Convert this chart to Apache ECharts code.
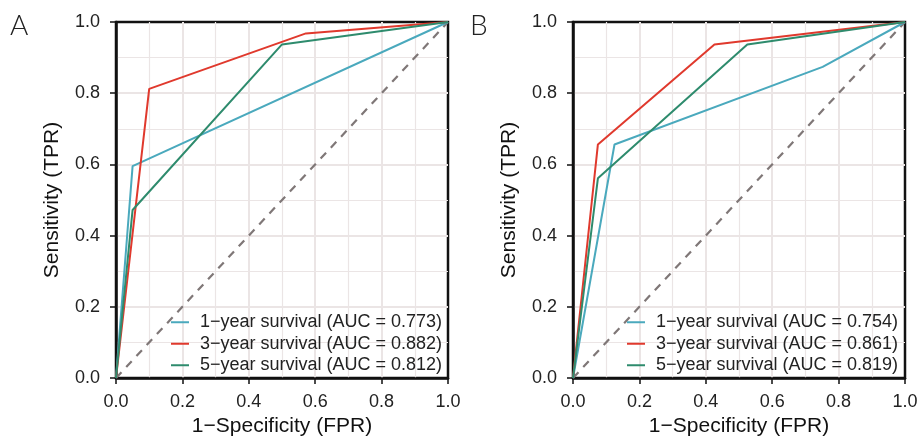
<!DOCTYPE html>
<html>
<head>
<meta charset="utf-8">
<script src="https://cdn.jsdelivr.net/npm/echarts@6/dist/echarts.min.js"></script>
<style>
  html, body { margin: 0; padding: 0; background: #fff; }
  #main { width: 919px; height: 438px; }
</style>
</head>
<body>
<div id="main"></div>
<script>
// ---------------------------------
// Data (FPR, TPR)
// ---------------------------------
const namesA = [
  '1\u2212year survival (AUC = 0.773)',
  '3\u2212year survival (AUC = 0.882)',
  '5\u2212year survival (AUC = 0.812)'
];
const namesB = [
  '1\u2212year survival (AUC = 0.754)',
  '3\u2212year survival (AUC = 0.861)',
  '5\u2212year survival (AUC = 0.819)'
];

// Panel A
const rocA1 = [[0, 0], [0.05, 0.595], [1, 1]];
const rocA3 = [[0, 0], [0.1, 0.812], [0.572, 0.968], [1, 1]];
const rocA5 = [[0, 0], [0.05, 0.472], [0.5, 0.937], [1, 1]];

// Panel B
const rocB1 = [[0, 0], [0.125, 0.656], [0.752, 0.874], [1, 1]];
const rocB3 = [[0, 0], [0.075, 0.656], [0.426, 0.937], [1, 1]];
const rocB5 = [[0, 0], [0.075, 0.561], [0.525, 0.937], [1, 1]];

const diagonal = [[0, 0], [1, 1]];

// Constants
const COLORS = ['#4aa9bd', '#e0392d', '#2e8b6d'];
const GRID_COLOR = '#ebe5e5';
const FONT = 'Liberation Sans, Arial, sans-serif';

const grids = [
  { left: 116, width: 332, top: 22, height: 356 },
  { left: 573, width: 332, top: 22, height: 356 }
];

const xAxes = [];
const yAxes = [];
const series = [];

for (let i = 0; i < 2; i++) {
  const common = {
    type: 'value',
    min: 0,
    max: 1,
    interval: 0.2,
    gridIndex: i,
    nameLocation: 'middle',
    nameTextStyle: { fontSize: 21, color: '#111', fontFamily: FONT },
    axisLine: { show: true, lineStyle: { color: '#111', width: 2.5 } },
    axisTick: { show: true, inside: false, length: 6, lineStyle: { color: '#111', width: 1.5 } },
    axisLabel: {
      fontSize: 18, color: '#222', fontFamily: FONT,
      formatter: v => v.toFixed(1)
    },
    splitLine: {
      show: true, showMinLine: false, showMaxLine: false,
      lineStyle: { color: GRID_COLOR, width: 2 }
    },
    minorTick: { show: true, splitNumber: 2, length: 0 },
    minorSplitLine: { show: true, lineStyle: { color: GRID_COLOR, width: 1.2 } }
  };
  xAxes.push(Object.assign({}, common, {
    name: '1\u2212Specificity (FPR)',
    nameGap: 38,
    axisLabel: Object.assign({}, common.axisLabel, { margin: 15 })
  }));
  yAxes.push(Object.assign({}, common, {
    name: 'Sensitivity (TPR)',
    nameGap: 53,
    axisLabel: Object.assign({}, common.axisLabel, { margin: 16 })
  }));
}

function addCurve(name, data, color, idx) {
  series.push({
    name: name,
    type: 'line',
    data: data,
    xAxisIndex: idx,
    yAxisIndex: idx,
    color: color,
    symbol: 'none',
    showSymbol: false,
    silent: true,
    z: 3,
    lineStyle: { color: color, width: 2 }
  });
}

function addDiagonal(idx) {
  series.push({
    type: 'line',
    data: diagonal,
    xAxisIndex: idx,
    yAxisIndex: idx,
    symbol: 'none',
    silent: true,
    z: 2,
    lineStyle: { color: '#7f7777', width: 2.2, type: [8, 7] }
  });
}

addDiagonal(0);
addCurve(namesA[0], rocA1, COLORS[0], 0);
addCurve(namesA[1], rocA3, COLORS[1], 0);
addCurve(namesA[2], rocA5, COLORS[2], 0);

addDiagonal(1);
addCurve(namesB[0], rocB1, COLORS[0], 1);
addCurve(namesB[1], rocB3, COLORS[1], 1);
addCurve(namesB[2], rocB5, COLORS[2], 1);

const legendStyle = {
  orient: 'vertical',
  itemWidth: 18,
  itemHeight: 10,
  itemGap: 3,
  padding: 0,
  icon: 'path://M0,4L18,4L18,6L0,6Z',
  textStyle: {
    fontSize: 18, lineHeight: 18.5, color: '#222', fontFamily: FONT,
    padding: [0, 0, 0, 6]
  },
  selectedMode: false
};

const panelLabel = {
  fontSize: 28,
  fontFamily: 'Lato, DejaVu Sans, sans-serif',
  fontWeight: 300,
  fill: '#222'
};

var chartDom = document.getElementById('main');
var myChart = echarts.init(chartDom, null, { renderer: 'canvas' });

var option = {
  backgroundColor: '#fff',
  animation: false,
  grid: grids.map(g => Object.assign({}, g, {
    show: true, borderColor: '#111', borderWidth: 2.5, backgroundColor: '#fff',
    containLabel: false, outerBoundsMode: 'none'
  })),
  xAxis: xAxes,
  yAxis: yAxes,
  legend: [
    Object.assign({}, legendStyle, { data: namesA, left: 171, top: 313 }),
    Object.assign({}, legendStyle, { data: namesB, left: 627, top: 313 })
  ],
  graphic: [
    { type: 'text', left: 10, top: 12, style: Object.assign({ text: 'A' }, panelLabel) },
    { type: 'text', left: 470, top: 12, style: Object.assign({ text: 'B' }, panelLabel) }
  ],
  series: series
};

option && myChart.setOption(option);
</script>
</body>
</html>
